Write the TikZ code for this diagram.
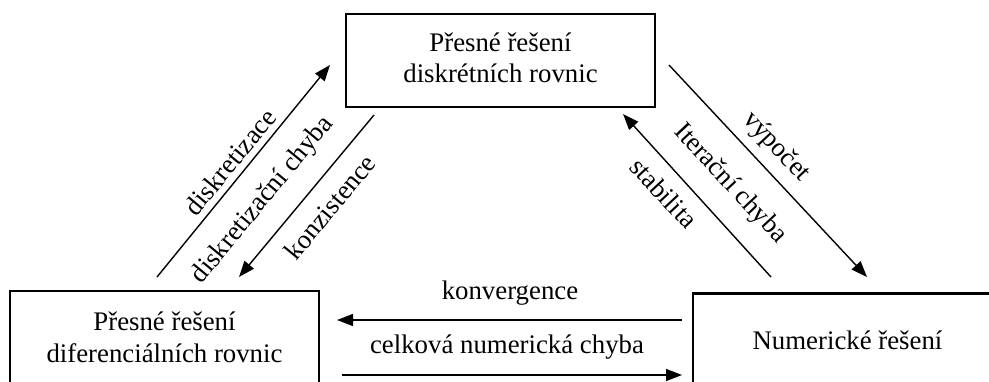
\documentclass[tikz,border=0pt]{standalone}
\usepackage{fontspec}
\setmainfont{Liberation Serif}
\usetikzlibrary{arrows.meta}
\begin{document}
\begin{tikzpicture}[x=1pt,y=-1pt,
  every node/.style={font=\fontsize{26.8}{32}\selectfont, inner sep=0pt},
  statebox/.style={draw, line width=2.4pt, minimum width=309pt, minimum height=93pt, align=center},
  flow/.style={line width=1.4pt, -{Triangle[length=16pt,width=12pt]}},
  lbl/.style={align=center}]
\useasboundingbox (0,0) rectangle (989,381);
\clip (0,0) rectangle (989,381);
\fill[white] (0,0) rectangle (989,381);

% the three solution states
\node[statebox] (disc) at (500.5,60.5) {\raisebox{2pt}{\begin{tabular}{@{}c@{}}Přesné řešení\\[-1.5pt]diskrétních rovnic\end{tabular}}};
\node[statebox] (diff) at (164.5,337.5) {Přesné řešení\\diferenciálních rovnic};
\node[statebox] (num)  at (847.5,340) {Numerické řešení};

% arrow end points between the states
\coordinate (d1) at (157,277);  \coordinate (d2) at (330,65);
\coordinate (k1) at (374,115);  \coordinate (k2) at (239,277);
\coordinate (v1) at (669,65);   \coordinate (v2) at (867,277);
\coordinate (s1) at (771,277);  \coordinate (s2) at (623,114);
\coordinate (c1) at (682,320);  \coordinate (c2) at (337,320);
\coordinate (e1) at (342,375);  \coordinate (e2) at (682,375);

\draw[flow] (d1) -- (d2);
\draw[flow] (k1) -- (k2);
\draw[flow] (v1) -- (v2);
\draw[flow] (s1) -- (s2);
\draw[flow] (c1) -- (c2);
\draw[flow] (e1) -- (e2);

% labels along the arrows
\node[lbl, rotate=50.5] (ldisk) at (230,162) {diskretizace};
\node[lbl, rotate=50.5] (lchyb) at (263,200) {diskretizační chyba};
\node[lbl, rotate=50.5] (lkonz) at (330,207) {konzistence};
\node[lbl, rotate=-47] (lvyp) at (776,147) {výpočet};
\node[lbl, rotate=-47] (liter) at (730,184) {Iterační chyba};
\node[lbl, rotate=-47] (lstab) at (664,193) {stabilita};
\node[lbl] (lkonv) at (510,293) {konvergence};
\node[lbl] (lcelk) at (507,347) {celková numerická chyba};
\end{tikzpicture}
\end{document}
